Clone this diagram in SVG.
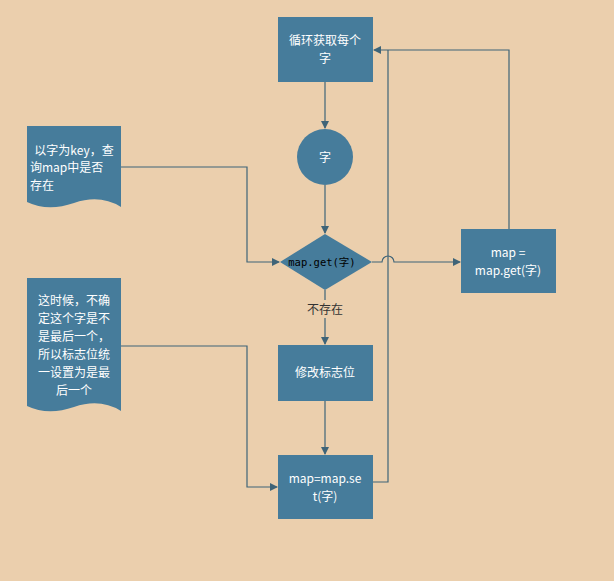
<svg xmlns="http://www.w3.org/2000/svg" width="614" height="581" viewBox="0 0 614 581">
<style>
.n{fill:#467C9B}
.t{fill:#fff;font-family:"Noto Sans CJK SC","Liberation Sans",sans-serif;font-size:12px;text-anchor:middle}
.c{fill:none;stroke:#3F6478;stroke-width:1.2}
</style>
<defs><marker id="a" markerWidth="8" markerHeight="8" refX="7" refY="4" orient="auto" markerUnits="userSpaceOnUse"><path d="M0,0L8,4L0,8z" fill="#3F6478"/></marker></defs>
<rect width="614" height="581" fill="#EBCFAD"/>
<g id="connectors">
<path class="c" d="M325,82V128" marker-end="url(#a)"/>
<path class="c" d="M325,185V233" marker-end="url(#a)"/>
<path class="c" d="M121,167H247V262H279" marker-end="url(#a)"/>
<path class="c" d="M372,262H382A6,6 0 0 1 394,262H460" marker-end="url(#a)"/>
<path class="c" d="M509,229V50H374" marker-end="url(#a)"/>
<path class="c" d="M325,290V300M325,318V344" marker-end="url(#a)"/>
<path class="c" d="M325,401V454" marker-end="url(#a)"/>
<path class="c" d="M121,346H247V487H277" marker-end="url(#a)"/>
<path class="c" d="M373,482H388V50"/>
</g>
<g id="box1"><rect class="n" x="278" y="17" width="95" height="65"/><text class="t" x="325" y="45">循环获取每个</text><text class="t" x="325" y="63">字</text></g>
<g id="circle"><circle class="n" cx="325" cy="157" r="28"/><text class="t" x="325" y="162">字</text></g>
<g id="diamond"><path class="n" d="M325,234L372,262L325,290L280,262z"/><text x="322" y="266" style="font-family:'DejaVu Sans Mono','Noto Sans CJK SC',monospace;font-size:10.5px;text-anchor:middle;fill:#000">map.get(字)</text></g>
<g id="label"><text x="325" y="314" style="font-family:'Noto Sans CJK SC',sans-serif;font-size:12px;text-anchor:middle;fill:#333">不存在</text></g>
<g id="box2"><rect class="n" x="278" y="345" width="95" height="56"/><text class="t" x="325" y="377">修改标志位</text></g>
<g id="box3"><rect class="n" x="278" y="455" width="95" height="64"/><text class="t" x="325" y="483">map=map.se</text><text class="t" x="325" y="501">t(字)</text></g>
<g id="box4"><rect class="n" x="461" y="229" width="95" height="64"/><text class="t" x="508" y="257">map =</text><text class="t" x="508" y="275">map.get(字)</text></g>
<g id="doc1"><path class="n" d="M27,126H121V207Q100,194 74,203T27,202z"/><text class="t" x="74" y="155">以字为key，查</text><text class="t" x="74" y="172" style="text-anchor:start" dx="-44">询map中是否</text><text class="t" x="30" y="190" style="text-anchor:start">存在</text></g>
<g id="doc2"><path class="n" d="M27,278H121V411Q100,398 74,407T27,406z"/><text class="t" x="74" y="305">这时候，不确</text><text class="t" x="74" y="323">定这个字是不</text><text class="t" x="74" y="341">是最后一个，</text><text class="t" x="74" y="359">所以标志位统</text><text class="t" x="74" y="377">一设置为是最</text><text class="t" x="74" y="395">后一个</text></g>
</svg>
